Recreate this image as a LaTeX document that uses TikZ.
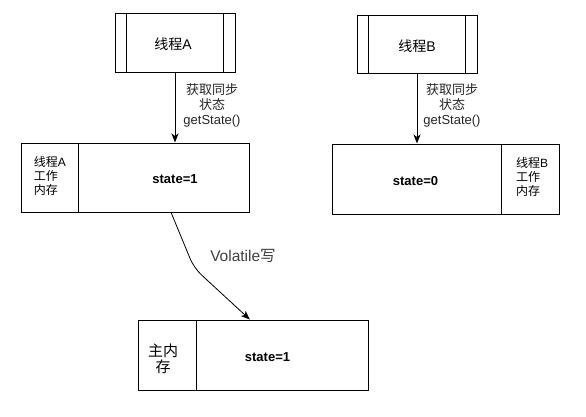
\documentclass[tikz,border=0pt]{standalone}
\usepackage{fontspec}
\setmainfont{Liberation Sans}
\newfontfamily\cjk{Noto Sans CJK SC}
\usetikzlibrary{arrows.meta,calc}
\tikzset{
  box/.style={draw=black, line width=1pt, rectangle, inner sep=0pt, fill=white},
  txt/.style={inner sep=0pt, align=center, text=black},
  side/.style={inner sep=0pt, align=left, font=\fontsize{12}{14}\selectfont},
  conn/.style={draw=black, line width=1pt, -{Stealth[length=9pt,width=7pt,inset=2.5pt]}},
  lbl/.style={inner sep=0pt, align=center, font=\fontsize{13}{15}\selectfont, text=black!85}
}
\begin{document}
\begin{tikzpicture}[x=1pt,y=-1pt]
\useasboundingbox (0,0) rectangle (586,416);
% thread A
\node[box, minimum width=120pt, minimum height=59pt] (thA) at (175,42.5) {};
\draw[line width=1pt] ($(thA.north west)+(12,0)$) -- ($(thA.south west)+(12,0)$);
\draw[line width=1pt] ($(thA.north east)+(-12,0)$) -- ($(thA.south east)+(-12,0)$);
\node[txt, font=\fontsize{14}{16}\selectfont] (thAt) at (173,44) {{\cjk 线程}A};
% thread B
\node[box, minimum width=120pt, minimum height=58pt] (thB) at (417,44) {};
\draw[line width=1pt] ($(thB.north west)+(12,0)$) -- ($(thB.south west)+(12,0)$);
\draw[line width=1pt] ($(thB.north east)+(-12,0)$) -- ($(thB.south east)+(-12,0)$);
\node[txt, font=\fontsize{14}{16}\selectfont] (thBt) at (417,46) {{\cjk 线程}B};
% memory A
\node[box, minimum width=57pt, minimum height=69pt] (mAl) at (49.5,177.5) {};
\node[box, minimum width=171pt, minimum height=69pt] (mAv) at (163.5,177.5) {};
\node[side] (mAlt) at (50,176) {{\cjk 线程}A\\{\cjk 工作}\\{\cjk 内存}};
\node[txt, font=\bfseries\fontsize{13}{15}\selectfont] (mAvt) at (175,179) {state=1};
% memory B
\node[box, minimum width=169pt, minimum height=70pt] (mBv) at (416.5,179) {};
\node[box, minimum width=58pt, minimum height=70pt] (mBl) at (530,179) {};
\node[side] (mBlt) at (532,177) {{\cjk 线程}B\\{\cjk 工作}\\{\cjk 内存}};
\node[txt, font=\bfseries\fontsize{13}{15}\selectfont] (mBvt) at (415.5,181) {state=0};
% main memory
\node[box, minimum width=58pt, minimum height=70pt] (mml) at (167,355) {};
\node[box, minimum width=172pt, minimum height=70pt] (mmv) at (282,355) {};
\node[txt, font=\cjk\fontsize{15}{16}\selectfont] (mmlt) at (163,359) {主内\\存};
\node[txt, font=\bfseries\fontsize{13}{15}\selectfont] (mmvt) at (267.5,357) {state=1};
% connectors
\draw[conn] (thA.south) -- (thA.south |- mAv.north);
\node[lbl] (la) at (212,105) {{\cjk 获取同步}\\{\cjk 状态}\\getState()};
\draw[conn] (thB.south) -- (thB.south |- mBv.north);
\node[lbl] (lb) at (452,105) {{\cjk 获取同步}\\{\cjk 状态}\\getState()};
\coordinate (vs) at ($(mAv.south west)!0.544!(mAv.south east)$);
\coordinate (ve) at ($(mmv.north west)!0.314!(mmv.north east)$);
\draw[conn, line width=0.8pt, rounded corners=10pt] (vs) -- (194,268) -- (ve);
\node[lbl, font=\fontsize{15.5}{17}\selectfont, text=black!75] (vl) at (243,256) {Volatile{\cjk 写}};
\end{tikzpicture}
\end{document}
